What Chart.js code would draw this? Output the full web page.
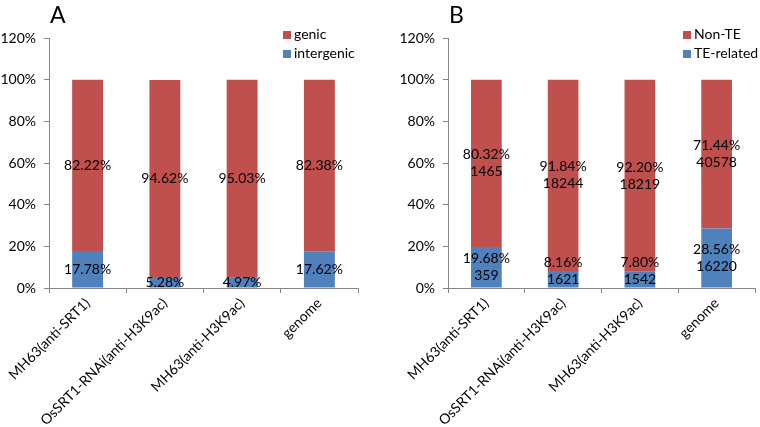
<!DOCTYPE html>
<html>
<head>
<meta charset="utf-8">
<script src="https://cdn.jsdelivr.net/npm/chart.js@4.4.1/dist/chart.umd.min.js"></script>
<style>
  body { margin: 0; background: #fff; font-family: Lato, "Open Sans", sans-serif; }
  #wrap { position: relative; width: 760px; height: 427px; }
  .panel { position: absolute; top: 0; width: 380px; height: 427px; }
  .panel canvas { position: absolute; left: 0; top: 0; }
  .letter { position: absolute; top: 0; font-size: 23px; color: #000; }
  .legend { position: absolute; top: 24px; font-size: 14px; color: #000; }
  .legend div { height: 19px; line-height: 19px; white-space: nowrap; }
  .legend span { display: inline-block; width: 8px; height: 8px; margin-right: 3px; vertical-align: 0px; }
</style>
</head>
<body>
<div id="wrap">
  <div class="panel" style="left:0">
    <canvas id="chartA" width="380" height="427"></canvas>
    <div class="letter" style="left:50px">A</div>
    <div class="legend" id="legendA" style="left:283px"></div>
  </div>
  <div class="panel" style="left:380px">
    <canvas id="chartB" width="380" height="427"></canvas>
    <div class="letter" style="left:69px">B</div>
    <div class="legend" id="legendB" style="left:303px"></div>
  </div>
</div>
<script>
// data
const samples = ['MH63(anti-SRT1)', 'OsSRT1-RNAi(anti-H3K9ac)', 'MH63(anti-H3K9ac)', 'genome'];

const genicPct = [82.22, 94.62, 95.03, 82.38];
const intergenicPct = [17.78, 5.28, 4.97, 17.62];

const nonTEPct = [80.32, 91.84, 92.20, 71.44];
const nonTECount = [1465, 18244, 18219, 40578];
const teRelatedPct = [19.68, 8.16, 7.80, 28.56];
const teRelatedCount = [359, 1621, 1542, 16220];

const yTicks = [0, 20, 40, 60, 80, 100, 120];

const RED = '#C0504D';
const BLUE = '#4F81BD';
const AXIS = '#868686';
const FONT = 'Lato, "Open Sans", sans-serif';

// labels in the middle of each stacked segment
const segmentLabels = {
    id: 'segmentLabels',
    afterDatasetsDraw(chart) {
        const ctx = chart.ctx;
        const bottom = chart.chartArea.bottom;
        const lh = 17;
        ctx.save();
        ctx.font = '14px ' + FONT;
        ctx.fillStyle = '#000';
        ctx.textAlign = 'center';
        ctx.textBaseline = 'middle';
        chart.data.datasets.forEach((ds, i) => {
            const meta = chart.getDatasetMeta(i);
            meta.data.forEach((bar, j) => {
                let yMid = (bar.y + bar.base) / 2;
                const lines = [ds.data[j].toFixed(2) + '%'];
                if (ds.counts) lines.push(String(ds.counts[j]));
                // two-line labels stay above the axis (like Excel does)
                if (lines.length > 1) yMid = Math.min(yMid, bottom - (lines.length - 1) * lh / 2 - 9);
                lines.forEach((t, k) => {
                    ctx.fillText(t, bar.x, yMid + (k - (lines.length - 1) / 2) * lh);
                });
            });
        });
        ctx.restore();
    }
};

function makeChart(id, datasets, leftW, rightPad) {
    return new Chart(document.getElementById(id), {
        type: 'bar',
        data: { labels: samples, datasets: datasets },
        options: {
            responsive: false,
            animation: false,
            layout: { padding: { top: 38, right: rightPad, left: 0, bottom: 0 } },
            plugins: { legend: { display: false }, tooltip: { enabled: false } },
            datasets: { bar: { barPercentage: 0.5, categoryPercentage: 0.8 } },
            scales: {
                x: {
                    stacked: true,
                    grid: { offset: true, drawOnChartArea: false, tickLength: 5, color: AXIS },
                    border: { color: AXIS },
                    ticks: { color: '#000', font: { family: FONT, size: 14 }, minRotation: 45, maxRotation: 45, padding: 2 },
                    afterFit: s => { s.height = 427 - 288; }
                },
                y: {
                    stacked: true,
                    min: 0, max: 120,
                    afterBuildTicks: s => { s.ticks = yTicks.map(v => ({ value: v })); },
                    grid: { drawOnChartArea: false, tickLength: 5, color: AXIS },
                    border: { color: AXIS },
                    ticks: { color: '#000', font: { family: FONT, size: 14 }, padding: 8, callback: v => v + '%' },
                    afterFit: s => { s.width = leftW; }
                }
            }
        },
        plugins: [segmentLabels]
    });
}

makeChart('chartA', [
    { label: 'intergenic', data: intergenicPct, backgroundColor: BLUE },
    { label: 'genic', data: genicPct, backgroundColor: RED }
], 49, 22);

makeChart('chartB', [
    { label: 'TE-related', data: teRelatedPct, counts: teRelatedCount, backgroundColor: BLUE },
    { label: 'Non-TE', data: nonTEPct, counts: nonTECount, backgroundColor: RED }
], 68, 5);

function legend(id, names, colors) {
    document.getElementById(id).innerHTML = names.map((n, i) =>
        '<div><span style="background:' + colors[i] + '"></span>' + n + '</div>').join('');
}
legend('legendA', ['genic', 'intergenic'], [RED, BLUE]);
legend('legendB', ['Non-TE', 'TE-related'], [RED, BLUE]);
</script>
</body>
</html>
